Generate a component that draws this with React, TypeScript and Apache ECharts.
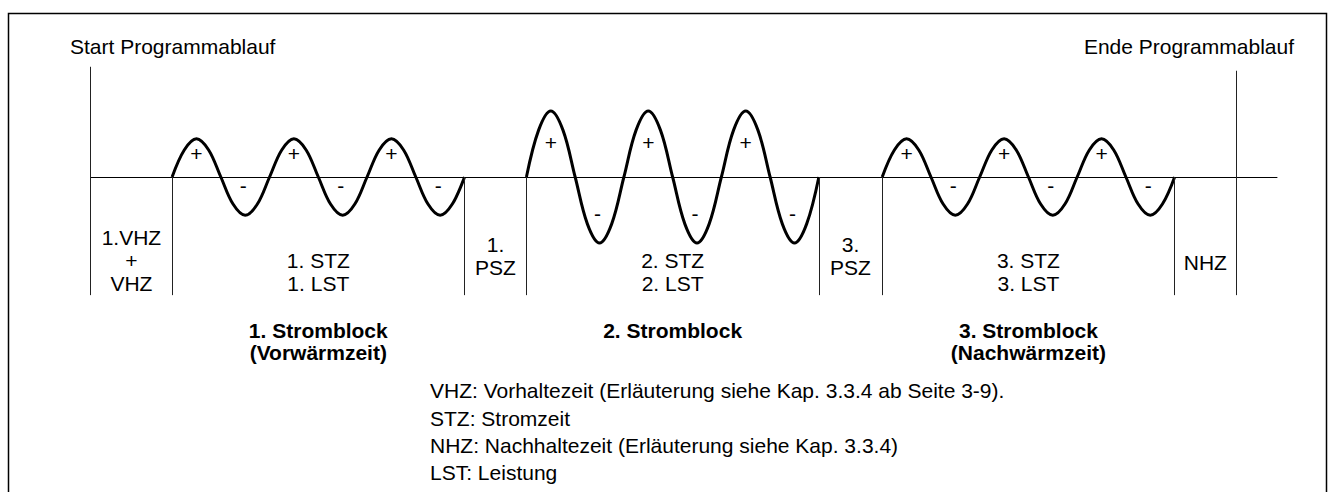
import React, { useEffect, useRef } from 'react';
import * as echarts from 'echarts';

const FONT = '"Liberation Sans", Arial, Helvetica, sans-serif';

// ---- data (time in ms, current in % of the 2nd block's peak) ----
const axisEndMs = 243.4;
const zoneBoundariesMs = [0, 16.7, 76.7, 89.4, 149.4, 162.4, 222.4, 235];
const zoneLabels = ['1.VHZ\n+\nVHZ', '1. STZ\n1. LST', '1.\nPSZ', '2. STZ\n2. LST', '3.\nPSZ', '3. STZ\n3. LST', 'NHZ'];
const blockNames = ['1. Stromblock\n(Vorwärmzeit)', '2. Stromblock', '3. Stromblock\n(Nachwärmzeit)'];
const startLabel = 'Start Programmablauf';
const endLabel = 'Ende Programmablauf';
const legendLines = [
  'VHZ: Vorhaltezeit (Erläuterung siehe Kap. 3.3.4 ab Seite 3-9).',
  'STZ: Stromzeit',
  'NHZ: Nachhaltezeit (Erläuterung siehe Kap. 3.3.4)',
  'LST: Leistung',
];

const block1Ms = [16.7, 19.2, 21.7, 24.2, 26.7, 29.2, 31.7, 34.2, 36.7, 39.2, 41.7, 44.2, 46.7, 49.2, 51.7, 54.2, 56.7, 59.2, 61.7, 64.2, 66.7, 69.2, 71.7, 74.2, 76.7];
const block1Current = [0, 41, 58, 41, 0, -41, -58, -41, 0, 41, 58, 41, 0, -41, -58, -41, 0, 41, 58, 41, 0, -41, -58, -41, 0];
const block2Ms = [89.4, 91.9, 94.4, 96.9, 99.4, 101.9, 104.4, 106.9, 109.4, 111.9, 114.4, 116.9, 119.4, 121.9, 124.4, 126.9, 129.4, 131.9, 134.4, 136.9, 139.4, 141.9, 144.4, 146.9, 149.4];
const block2Current = [0, 71, 100, 71, 0, -71, -100, -71, 0, 71, 100, 71, 0, -71, -100, -71, 0, 71, 100, 71, 0, -71, -100, -71, 0];
const block3Ms = [162.4, 164.9, 167.4, 169.9, 172.4, 174.9, 177.4, 179.9, 182.4, 184.9, 187.4, 189.9, 192.4, 194.9, 197.4, 199.9, 202.4, 204.9, 207.4, 209.9, 212.4, 214.9, 217.4, 219.9, 222.4];
const block3Current = [0, 41, 58, 41, 0, -41, -58, -41, 0, 41, 58, 41, 0, -41, -58, -41, 0, 41, 58, 41, 0, -41, -58, -41, 0];

// ---- layout / style ----
const markerTopStart = 167;
const markerTopEnd = 161;
const zoneFloor = -179;
const plusOffsetY = [15, 31, 15];
const minusOffset = [-2, -29.5];
const zoneLabelCenterY = [237.8, 260.8, 244.7, 260.8, 244.7, 260.8, 262.5];

function waveSeries(times: number[], values: number[], blockIdx: number, extra: any = {}) {
  const maxV = Math.max(...values);
  const minV = Math.min(...values);
  const data = times.map((t, i) => {
    const v = values[i];
    if (v === maxV) {
      return { value: [t, v], label: { show: true, formatter: '+', position: 'inside', offset: [0, plusOffsetY[blockIdx]] } };
    }
    if (v === minV) {
      return { value: [t, v], label: { show: true, formatter: '-', position: 'inside', offset: minusOffset } };
    }
    return { value: [t, v] };
  });
  return {
    type: 'line',
    silent: true,
    smooth: 0.35,
    symbol: 'circle',
    symbolSize: 0,
    showSymbol: true,
    lineStyle: { color: '#000', width: 3 },
    itemStyle: { color: '#000' },
    label: { color: '#000', fontSize: 21, fontFamily: FONT },
    emphasis: { disabled: true },
    data,
    ...extra,
  };
}

export default function App() {
  const ref = useRef<HTMLDivElement>(null);
  useEffect(() => {
    const el = ref.current!;
    const chart = echarts.init(el, null, { renderer: 'svg' });
    const lastIdx = zoneBoundariesMs.length - 1;
    const markData = zoneBoundariesMs.map((t, i) => {
      const top = i === 0 ? markerTopStart : i === lastIdx ? markerTopEnd : 0;
      return [{ coord: [t, top] }, { coord: [t, zoneFloor] }];
    });
    chart.setOption({
      animation: false,
      backgroundColor: '#fff',
      grid: { left: 90.7, right: 56, top: 45, bottom: 183 },
      xAxis: {
        type: 'value',
        min: 0,
        max: axisEndMs,
        axisLine: { show: true, onZero: true, lineStyle: { color: '#000', width: 1 } },
        axisTick: { show: false },
        axisLabel: { show: false },
        splitLine: { show: false },
      },
      yAxis: { type: 'value', min: -200, max: 200, show: false },
      series: [
        waveSeries(block1Ms, block1Current, 0, {
          markLine: {
            silent: true,
            symbol: ['none', 'none'],
            label: { show: false },
            lineStyle: { color: '#222', width: 1, type: 'solid' },
            emphasis: { disabled: true },
            data: markData,
          },
        }),
        waveSeries(block2Ms, block2Current, 1),
        waveSeries(block3Ms, block3Current, 2),
      ],
    });

    const px = (t: number) => chart.convertToPixel({ xAxisIndex: 0 }, t) as number;
    const textStyle = (extra: any) => ({
      fill: '#000',
      fontSize: 21,
      fontFamily: FONT,
      ...extra,
    });
    const graphic: any[] = [];
    graphic.push({
      type: 'rect',
      silent: true,
      shape: { x: 8.5, y: 13.5, width: 1318, height: 520 },
      style: { fill: 'none', stroke: '#000', lineWidth: 1.5 },
    });
    graphic.push({
      type: 'text',
      silent: true,
      style: textStyle({ text: startLabel, x: 70, y: 46.7, align: 'left', textAlign: 'left', verticalAlign: 'middle', textVerticalAlign: 'middle' }),
    });
    graphic.push({
      type: 'text',
      silent: true,
      style: textStyle({ text: endLabel, x: 1294, y: 46.7, align: 'right', textAlign: 'right', verticalAlign: 'middle', textVerticalAlign: 'middle' }),
    });
    zoneLabels.forEach((lbl, i) => {
      const cx = (px(zoneBoundariesMs[i]) + px(zoneBoundariesMs[i + 1])) / 2;
      graphic.push({
        type: 'text',
        silent: true,
        style: textStyle({
          text: lbl, x: cx, y: zoneLabelCenterY[i] - 11.5, lineHeight: 23,
          align: 'center', textAlign: 'center', verticalAlign: 'top', textVerticalAlign: 'top',
        }),
      });
    });
    blockNames.forEach((lbl, b) => {
      const zi = 1 + b * 2;
      const cx = (px(zoneBoundariesMs[zi]) + px(zoneBoundariesMs[zi + 1])) / 2;
      graphic.push({
        type: 'text',
        silent: true,
        style: textStyle({
          text: lbl, x: cx, y: 330 - 11, lineHeight: 22, fontWeight: 'bold',
          align: 'center', textAlign: 'center', verticalAlign: 'top', textVerticalAlign: 'top',
        }),
      });
    });
    graphic.push({
      type: 'text',
      silent: true,
      style: textStyle({
        text: legendLines.join('\n'), x: 430, y: 390.8 - 13.6, lineHeight: 27.2,
        align: 'left', textAlign: 'left', verticalAlign: 'top', textVerticalAlign: 'top',
      }),
    });
    chart.setOption({ graphic });
    return () => chart.dispose();
  }, []);
  return (
    <div
      ref={ref}
      style={{ position: 'absolute', left: 0, top: 0, width: 1333, height: 492, background: '#fff' }}
    />
  );
}
